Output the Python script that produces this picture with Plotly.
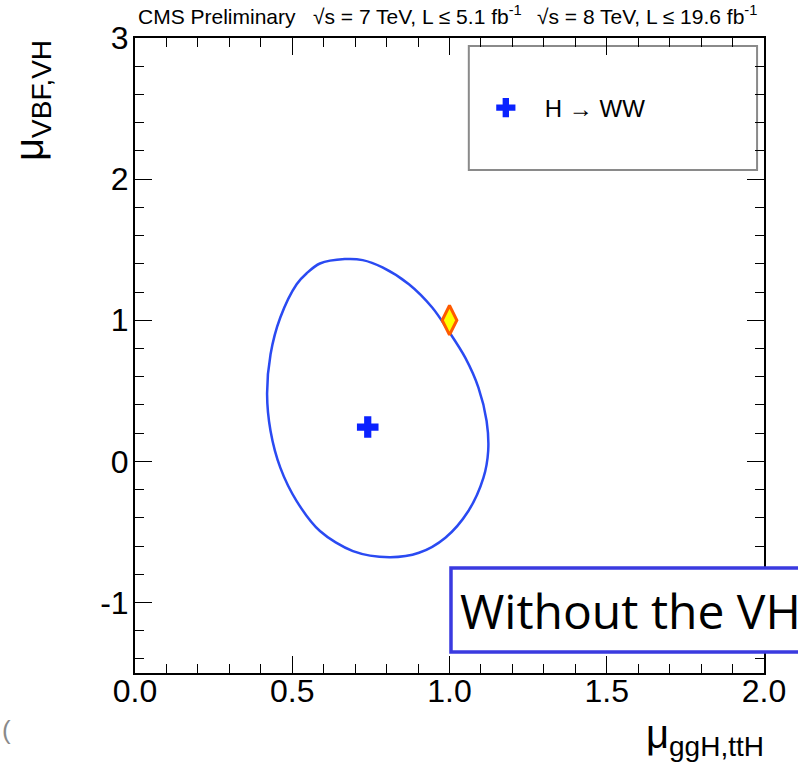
import plotly.graph_objects as go

# ---- data ----
contour_x = [0.667, 0.724, 0.787, 0.871, 0.945, 0.997, 1.050, 1.092, 1.118, 1.123,
             1.108, 1.060, 0.987, 0.903, 0.809, 0.693, 0.588, 0.514, 0.462, 0.431,
             0.420, 0.431, 0.462, 0.514, 0.546, 0.588, 0.667]
contour_y = [1.433, 1.426, 1.374, 1.255, 1.090, 0.924, 0.735, 0.523, 0.286, 0.073,
             -0.116, -0.352, -0.541, -0.648, -0.679, -0.636, -0.494, -0.282, -0.045, 0.215,
             0.475, 0.759, 1.019, 1.255, 1.333, 1.402, 1.433]
best_fit_x = [0.74]
best_fit_y = [0.243]
sm_x = [1.0]
sm_y = [1.0]
x_ticks = [0.0, 0.5, 1.0, 1.5, 2.0]
x_tick_labels = ["0.0", "0.5", "1.0", "1.5", "2.0"]
y_ticks = [-1, 0, 1, 2, 3]
y_tick_labels = ["-1", "0", "1", "2", "3"]

W, H = 798, 765
L, R, T, B = 135, 770, 38, 673


def px(x):
    return (x - L) / (R - L)


def py(y):
    return (B - y) / (B - T)


fig = go.Figure()
fig.add_trace(go.Scatter(x=contour_x, y=contour_y, mode="lines",
                         line=dict(color="#2a4af2", width=2.5, shape="spline", smoothing=0.9),
                         showlegend=False, hoverinfo="skip"))
fig.add_trace(go.Scatter(x=sm_x, y=sm_y, mode="markers",
                         marker=dict(symbol="diamond-tall", size=21, color="#ffff00",
                                     line=dict(color="#ff5a00", width=3)),
                         showlegend=False))
fig.add_trace(go.Scatter(x=best_fit_x, y=best_fit_y, mode="markers", name="H \u2192 WW",
                         marker=dict(symbol="cross", size=18, color="#0a22ff",
                                     line=dict(width=0))))

axis_common = dict(showline=True, linecolor="black", linewidth=2, mirror="allticks",
                   ticks="inside", ticklen=17, tickwidth=1.3, tickcolor="black",
                   showgrid=False, zeroline=False,
                   tickfont=dict(family="Liberation Sans", size=32, color="black"))

fig.update_xaxes(range=[0, 2], tickvals=x_ticks, ticktext=x_tick_labels,
                 minor=dict(dtick=0.1, ticks="inside", ticklen=9, tickcolor="black", tickwidth=1.1),
                 ticklabelstandoff=-11, **axis_common)
fig.update_yaxes(range=[-1.5, 3], tickvals=y_ticks, ticktext=y_tick_labels,
                 minor=dict(dtick=0.2, ticks="inside", ticklen=9, tickcolor="black", tickwidth=1.1),
                 ticklabelstandoff=-2, **axis_common)

shapes = [
    # legend box
    dict(type="rect", xref="paper", yref="paper", x0=px(472), x1=px(763), y0=py(170), y1=py(46),
         line=dict(color="#8a8a8a", width=2), fillcolor="white", layer="below"),
    # "Without the VH" box
    dict(type="rect", xref="paper", yref="paper", x0=px(454), x1=px(830), y0=py(652), y1=py(568),
         line=dict(color="#3a3ae0", width=3.5), fillcolor="white", layer="above"),
]

hdr_font = dict(family="Liberation Sans", size=21, color="black")
annotations = [
    dict(text="CMS Preliminary", xref="paper", yref="paper", x=px(136), y=py(30),
         xanchor="left", yanchor="bottom", showarrow=False, font=hdr_font),
    dict(text="\u221as = 7 TeV, L \u2264 5.1 fb<sup>-1</sup>", xref="paper", yref="paper",
         x=px(313), y=py(30), xanchor="left", yanchor="bottom", showarrow=False, font=hdr_font),
    dict(text="\u221as = 8 TeV, L \u2264 19.6 fb<sup>-1</sup>", xref="paper", yref="paper",
         x=px(539), y=py(30), xanchor="left", yanchor="bottom", showarrow=False, font=hdr_font),
    # axis titles
    dict(text="\u03bc<sub>VBF,VH</sub>", xref="paper", yref="paper", x=px(31), y=py(100),
         xanchor="center", yanchor="middle", textangle=-90, showarrow=False,
         font=dict(family="Liberation Sans", size=40, color="black")),
    dict(text="\u03bc<sub>ggH,ttH</sub>", xref="paper", yref="paper", x=px(772), y=py(764),
         xanchor="right", yanchor="bottom", showarrow=False,
         font=dict(family="Liberation Sans", size=40, color="black")),
    # overlay label
    dict(text="Without the VH", xref="paper", yref="paper", x=px(461), y=py(610),
         xanchor="left", yanchor="middle", showarrow=False,
         font=dict(family="Open Sans", size=48, color="black")),
    dict(text="(", xref="paper", yref="paper", x=px(-1), y=py(730),
         xanchor="left", yanchor="middle", showarrow=False,
         font=dict(family="Liberation Sans", size=26, color="#8a8a8a")),
]

fig.update_layout(
    width=W, height=H,
    margin=dict(l=L, r=W - R, t=T, b=H - B),
    paper_bgcolor="white", plot_bgcolor="white",
    shapes=shapes, annotations=annotations,
    legend=dict(x=px(470), y=py(108), xanchor="left", yanchor="middle", itemwidth=68,
                bgcolor="rgba(0,0,0,0)", borderwidth=0,
                font=dict(family="Liberation Sans", size=24, color="black")),
)

fig.write_html("out.html")
